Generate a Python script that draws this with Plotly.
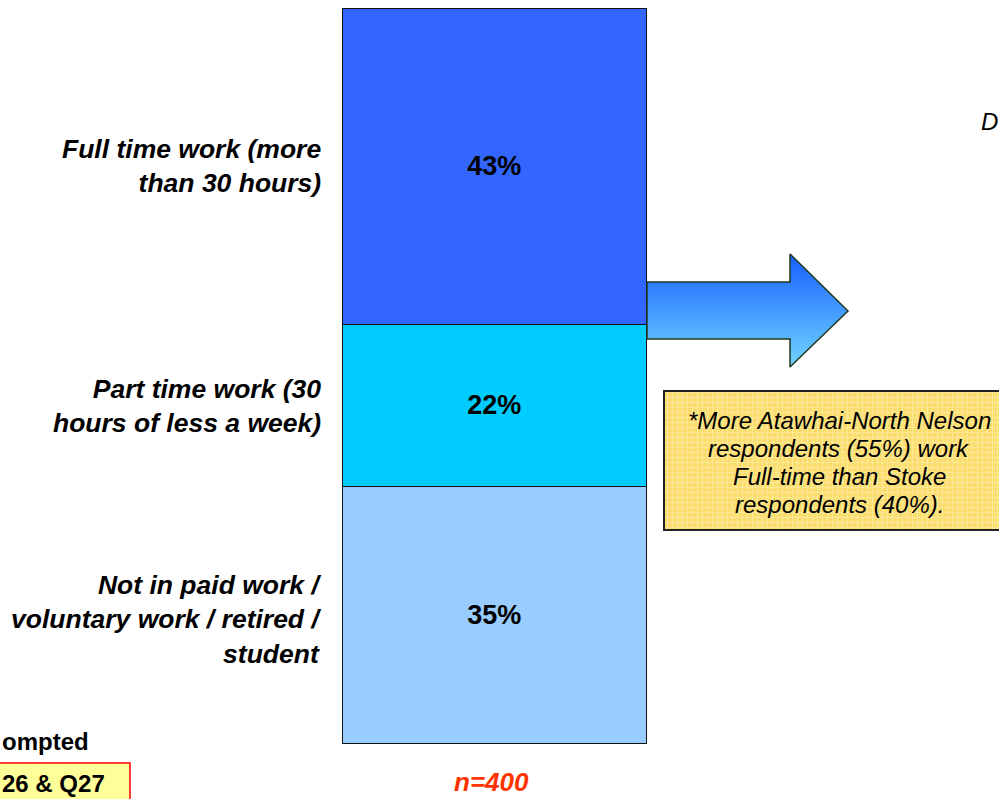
import plotly.graph_objects as go

# Employment status shares (percent of respondents)
categories = [
    "Full time work (more<br>than 30 hours)",
    "Part time work (30<br>hours of less a week)",
    "Not in paid work /<br>voluntary work / retired /<br>student",
]
shares = [43, 22, 35]
bar_colors = ["#3366FF", "#00CCFF", "#99CCFF"]
sample_label = "n=400"
note_lines = [
    "*More Atawhai-North Nelson",
    "respondents (55%) work",
    "Full-time than Stoke",
    "respondents (40%).",
]

W, H = 999, 799
FONT = "Liberation Sans, Arial, sans-serif"

# Page geometry (pixel units on the overlay axis)
BAR_CENTER, BAR_WIDTH = 495, 304
BAR_TOP_PX, BAR_BOTTOM_PX = 9, 744
px_per_pct = (BAR_BOTTOM_PX - BAR_TOP_PX) / 100.0
y_top = -BAR_TOP_PX / px_per_pct
y_bottom = 100 + (H - BAR_BOTTOM_PX) / px_per_pct

fig = go.Figure()

# Stacked column
for name, val, col in zip(categories, shares, bar_colors):
    fig.add_trace(go.Bar(
        x=[BAR_CENTER], y=[val], width=[BAR_WIDTH], name=name,
        marker=dict(color=col, line=dict(color="#111111", width=1.5)),
        texttemplate="<b>%{y}%</b>", textposition="inside",
        insidetextanchor="middle", textangle=0,
        textfont=dict(family=FONT, size=27, color="#000000"),
        hoverinfo="skip", showlegend=False,
    ))

# Category labels beside each segment
label_shift = [-1, 0, 4]
cum = 0
for name, val, dy in zip(categories, shares, label_shift):
    mid = cum + val / 2
    cum += val
    fig.add_annotation(
        x=323, y=mid, xref="x", yref="y", xanchor="right", yanchor="middle",
        align="right", showarrow=False, yshift=-dy,
        text=f"<b><i>{name}</i></b>",
        font=dict(family=FONT, size=26.5, color="#000000"),
    )

# Block arrow with vertical gradient
arrow_x = [647, 790, 790, 848, 790, 790, 647, 647]
arrow_y = [282, 282, 254, 311, 367, 339, 339, 282]
fig.add_trace(go.Scatter(
    x=arrow_x, y=arrow_y, xaxis="x", yaxis="y2", mode="lines",
    fill="toself",
    fillgradient=dict(type="vertical", start=254, stop=367,
                      colorscale=[[0, "#1560FF"], [1, "#72D4FF"]]),
    line=dict(color="#1E3A1E", width=1.5),
    hoverinfo="skip", showlegend=False,
))

# Note box with a fine grid texture
fig.add_trace(go.Bar(
    x=[838], y=[139], base=[392], width=[346], xaxis="x", yaxis="y2",
    marker=dict(color="#FBDD6E", line=dict(color="#222222", width=1.8),
                pattern=dict(shape="+", fgcolor="#FFF4C4", bgcolor="#FBDD6E",
                             size=5, solidity=0.35)),
    hoverinfo="skip", showlegend=False,
))
for i, line in enumerate(note_lines):
    fig.add_annotation(
        x=839, y=420 + i * 28, xref="x", yref="y2", xanchor="center",
        yanchor="middle", showarrow=False, text=f"<i>{line}</i>",
        font=dict(family=FONT, size=24, color="#000000"),
    )

# Sample size
fig.add_annotation(
    x=BAR_CENTER - 4, y=782, xref="x", yref="y2", showarrow=False,
    text=f"<b><i>{sample_label}</i></b>",
    font=dict(family=FONT, size=26, color="#FF3300"),
)

# Left-edge notes and source box
fig.add_shape(type="rect", xref="x", yref="y2", x0=-20, x1=130, y0=763, y1=820,
              fillcolor="#FFFF99", line=dict(color="#FF0000", width=1.5),
              layer="below")
fig.add_annotation(
    x=0, y=741, xref="x", yref="y2", xanchor="left", yanchor="middle",
    showarrow=False, text="<b>ompted</b>",
    font=dict(family=FONT, size=24, color="#000000"),
)
fig.add_annotation(
    x=0, y=783, xref="x", yref="y2", xanchor="left", yanchor="middle",
    showarrow=False, text="<b>26 & Q27</b>",
    font=dict(family=FONT, size=24, color="#000000"),
)
fig.add_annotation(
    x=979, y=121, xref="x", yref="y2", xanchor="left", yanchor="middle",
    showarrow=False, text="<i>D</i>",
    font=dict(family=FONT, size=24, color="#000000"),
)

fig.update_layout(
    width=W, height=H, margin=dict(l=0, r=0, t=0, b=0),
    paper_bgcolor="white", plot_bgcolor="white",
    barmode="stack", bargap=0,
    xaxis=dict(range=[0, W], visible=False, fixedrange=True),
    yaxis=dict(range=[y_bottom, y_top], visible=False, fixedrange=True),
    yaxis2=dict(range=[H, 0], overlaying="y", visible=False, fixedrange=True),
    showlegend=False,
)

fig.write_html("out.html")
